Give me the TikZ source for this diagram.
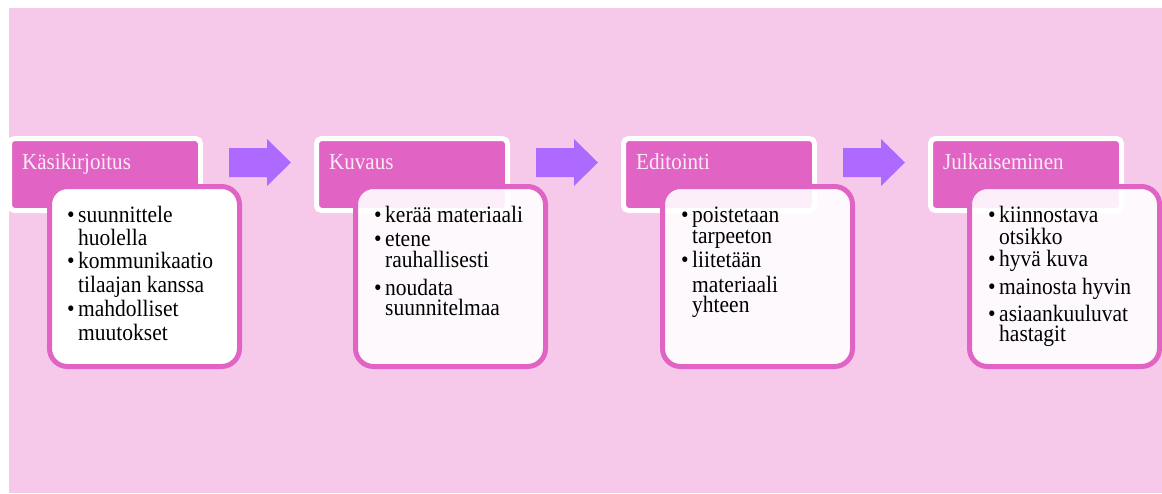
\documentclass[tikz,border=0pt]{standalone}
\usepackage{fontspec}
\setmainfont{Liberation Serif}
\newfontfamily\narrowserif[FakeStretch=0.915]{Liberation Serif}
\definecolor{bgpink}{RGB}{246,201,234}
\definecolor{titlepink}{RGB}{225,99,195}
\definecolor{borderpink}{RGB}{225,100,196}
\definecolor{titletext}{RGB}{253,236,248}
\definecolor{arrowpurple}{RGB}{174,106,255}
\begin{document}
\begin{tikzpicture}[x=1pt,y=-1pt,
 titlebox/.style={draw=white, line width=5pt, fill=titlepink, rounded corners=5pt, minimum width=191pt, minimum height=72pt, inner sep=0pt, outer sep=0pt},
 bodybox/.style={draw=borderpink, line width=5pt, fill=white, rounded corners=18pt, minimum width=190pt, minimum height=180pt, inner sep=0pt, outer sep=0pt},
 ttl/.style={anchor=base west, inner sep=0pt, text=titletext, font=\narrowserif\fontsize{23}{26}\selectfont},
 txt/.style={anchor=base west, inner sep=0pt, text=black, font=\narrowserif\fontsize{23.5}{26}\selectfont},
 blockarrow/.style={fill=arrowpurple}]
\useasboundingbox (0,0) rectangle (1162,493);
\fill[bgpink] (9,8) rectangle (1162,493);
% arrows
\foreach \s/\n in {0/a1,307/a2,614/a3}{
  \coordinate (\n) at (229+\s,162.5);
  \fill[blockarrow] (\n) ++(0,-14.5) -- ++(38,0) -- ++(0,-9) -- ++(24,23.5) -- ++(-24,23.5) -- ++(0,-9) -- ++(-38,0) -- cycle;
}
% box 1
\node[titlebox] (t1) at (105,174.5) {};
\node[ttl] (t1text) at (22,169) {Käsikirjoitus};
\node[bodybox] (b1) at (144.5,276.5) {};
\node[txt] (b1p1) at (67,222.3) {•};
\node[txt] (b1l1) at (78,222.3) {suunnittele};
\node[txt] (b1l2) at (78,245) {huolella};
\node[txt] (b1p2) at (67,268.3) {•};
\node[txt] (b1l3) at (78,268.3) {kommunikaatio};
\node[txt] (b1l4) at (78,292.3) {tilaajan kanssa};
\node[txt] (b1p3) at (67,316) {•};
\node[txt] (b1l5) at (78,316) {mahdolliset};
\node[txt] (b1l6) at (78,340.7) {muutokset};
% box 2
\node[titlebox] (t2) at (412,174.5) {};
\node[ttl] (t2text) at (329,169) {Kuvaus};
\node[bodybox, fill opacity=0.9] (b2) at (450.5,276.5) {};
\node[txt] (b2p1) at (374,222.7) {•};
\node[txt] (b2l1) at (385,222.7) {kerää materiaali};
\node[txt] (b2p2) at (374,246.7) {•};
\node[txt] (b2l2) at (385,246.7) {etene};
\node[txt] (b2l3) at (385,267.7) {rauhallisesti};
\node[txt] (b2p3) at (374,295.7) {•};
\node[txt] (b2l4) at (385,295.7) {noudata};
\node[txt] (b2l5) at (385,315.7) {suunnitelmaa};
% box 3
\node[titlebox] (t3) at (719,174.5) {};
\node[ttl] (t3text) at (636,169) {Editointi};
\node[bodybox, fill opacity=0.9] (b3) at (757.5,276.5) {};
\node[txt] (b3p1) at (681,222.3) {•};
\node[txt] (b3l1) at (692,222.3) {poistetaan};
\node[txt] (b3l2) at (692,243.3) {tarpeeton};
\node[txt] (b3p2) at (681,267.7) {•};
\node[txt] (b3l3) at (692,267.7) {liitetään};
\node[txt] (b3l4) at (692,292.3) {materiaali};
\node[txt] (b3l5) at (692,312.7) {yhteen};
% box 4
\node[titlebox] (t4) at (1026,174.5) {};
\node[ttl] (t4text) at (943,169) {Julkaiseminen};
\node[bodybox, fill opacity=0.9] (b4) at (1064.5,276.5) {};
\node[txt] (b4p1) at (988,222.3) {•};
\node[txt] (b4l1) at (999,222.3) {kiinnostava};
\node[txt] (b4l2) at (999,244) {otsikko};
\node[txt] (b4p2) at (988,266.7) {•};
\node[txt] (b4l3) at (999,266.7) {hyvä kuva};
\node[txt] (b4p3) at (988,294.3) {•};
\node[txt] (b4l4) at (999,294.3) {mainosta hyvin};
\node[txt] (b4p4) at (988,321.7) {•};
\node[txt] (b4l5) at (999,321.7) {asiaankuuluvat};
\node[txt] (b4l6) at (999,341.7) {hastagit};
\end{tikzpicture}
\end{document}
